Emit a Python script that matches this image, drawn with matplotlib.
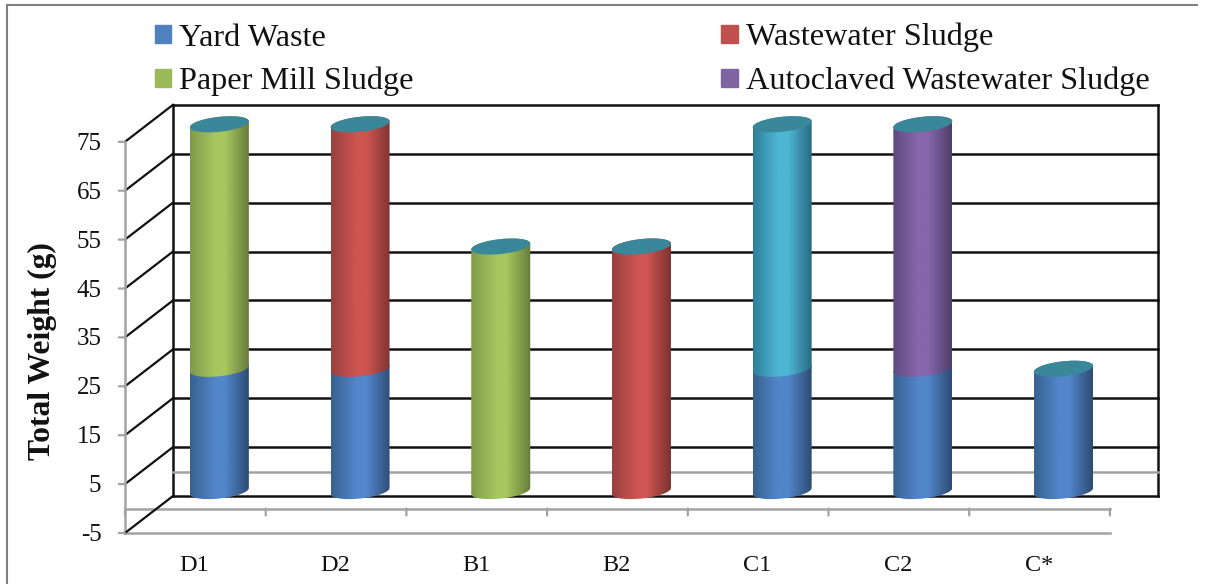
import matplotlib
matplotlib.use("Agg")
import matplotlib.pyplot as plt
import numpy as np
from matplotlib.colors import LinearSegmentedColormap
from matplotlib.patches import Patch, PathPatch
from matplotlib.path import Path

categories = ["D1", "D2", "B1", "B2", "C1", "C2", "C*"]
yard_waste = [25, 25, 0, 0, 25, 25, 25]
paper_sludge = [50, 0, 50, 0, 0, 0, 0]
waste_sludge = [0, 50, 0, 50, 0, 0, 0]
unlabelled = [0, 0, 0, 0, 50, 0, 0]
autoclaved = [0, 0, 0, 0, 0, 50, 0]
y_ticks = [-5, 5, 15, 25, 35, 45, 55, 65, 75]

plt.rcParams["font.family"] = ["Liberation Serif"]

# pixel scale of the plot, the whole figure is one axes
PX_CAT = 140.7
PX_VAL = 4.89
DEPTH_X = 48 / PX_CAT
DEPTH_Y = 37 / PX_VAL
HALF_W = 29.5 / PX_CAT
BLACK = "#111111"
GRAY = "#A3A3A3"
CAP = "#3A8799"

# edge left, mid, edge right, legend colour
SHADES = {
    "yard": ("#38618F", "#5286CA", "#2E4B73", "#4F81BD"),
    "paper": ("#7F9A4A", "#A6C65F", "#667C3A", "#9BBB59"),
    "waste": ("#97403E", "#CE5552", "#7C3331", "#C0504D"),
    "teal": ("#2F7F9A", "#4CB6D4", "#2A6A80", "#4BACC6"),
    "auto": ("#5E4A7E", "#8666AC", "#4E3D69", "#8064A2"),
}

fig = plt.figure(figsize=(12.07, 5.84), dpi=100)
ax = fig.add_axes([0, 0, 1, 1])
xlim = (-125 / PX_CAT, (1207 - 125) / PX_CAT)
ylim = (-5 - (584 - 533) / PX_VAL, -5 + 533 / PX_VAL)


def ellipse_arc(cx, cy, t):
    xs = cx + HALF_W * np.cos(t)
    ys = cy + (3 * np.cos(t) + 7.5 * np.sin(t)) / PX_VAL
    return xs, ys


def draw_segment(cx, bottom, top, key):
    lo = np.linspace(np.pi, 2 * np.pi, 40)
    up = np.linspace(0, np.pi, 40)
    xb, yb = ellipse_arc(cx, bottom, lo)
    xt, yt = ellipse_arc(cx, top, up)
    verts = np.vstack([np.column_stack([xb, yb]), np.column_stack([xt, yt]), [[xb[0], yb[0]]]])
    clip = PathPatch(Path(verts), transform=ax.transData, fc="none", ec="none")
    ax.add_patch(clip)
    left, mid, right, _ = SHADES[key]
    cmap = LinearSegmentedColormap.from_list(key, [(0, left), (0.42, mid), (0.6, mid), (1, right)])
    grad = np.linspace(0, 1, 128).reshape(1, -1)
    im = ax.imshow(grad, cmap=cmap, aspect="auto", zorder=3, interpolation="bilinear",
                   extent=(cx - HALF_W, cx + HALF_W, bottom - 3, top + 3))
    im.set_clip_path(clip)


# frame round the chart
ax.plot([0.006, 0.006], [0, 0.991], transform=ax.transAxes, color="#808080", lw=1.5)
ax.plot([0.006, 0.992], [0.991, 0.991], transform=ax.transAxes, color="#808080", lw=1.5)

n = len(categories)
top_val = y_ticks[-1]
low_val = y_ticks[0]

# back wall
for v in y_ticks[1:]:
    ax.plot([DEPTH_X, n + DEPTH_X], [v + DEPTH_Y] * 2, color=BLACK, lw=1.8, zorder=1)
    ax.plot([0, DEPTH_X], [v, v + DEPTH_Y], color=BLACK, lw=1.6, zorder=1)
ax.plot([DEPTH_X, n + DEPTH_X], [low_val + DEPTH_Y] * 2, color=BLACK, lw=1.8, zorder=1)
ax.plot([0, DEPTH_X], [low_val, low_val + DEPTH_Y], color=BLACK, lw=1.6, zorder=2)
ax.plot([DEPTH_X, DEPTH_X], [low_val + DEPTH_Y, top_val + DEPTH_Y], color=BLACK, lw=1.8, zorder=1)
ax.plot([n + DEPTH_X, n + DEPTH_X], [low_val + DEPTH_Y, top_val + DEPTH_Y], color=BLACK, lw=1.8, zorder=1)

# zero planes and front axis
ax.plot([DEPTH_X, n + DEPTH_X], [DEPTH_Y, DEPTH_Y], color=GRAY, lw=1.8, zorder=1)
ax.plot([0, n], [0, 0], color=GRAY, lw=1.8, zorder=1)
ax.plot([0, n], [low_val, low_val], color=GRAY, lw=1.8, zorder=1)
ax.plot([0, 0], [low_val, top_val], color=GRAY, lw=1.8, zorder=1)
for i in range(n + 1):
    ax.annotate("", xy=(i, 0), xytext=(0, -5), textcoords="offset points",
                arrowprops=dict(arrowstyle="-", color=GRAY, lw=1.6, shrinkA=0, shrinkB=0))
for v in y_ticks:
    ax.annotate("", xy=(0, v), xytext=(-4.5, 0), textcoords="offset points",
                arrowprops=dict(arrowstyle="-", color=GRAY, lw=1.6, shrinkA=0, shrinkB=0))
    ax.annotate(str(v), xy=(0, v), xytext=(-17, -1.5), textcoords="offset points",
                ha="right", va="center", fontsize=18, color="#111111")

# cylinders, stacked bottom up
series = [("yard", yard_waste), ("paper", paper_sludge), ("waste", waste_sludge),
          ("teal", unlabelled), ("auto", autoclaved)]
for i in range(n):
    cx = i + 0.5 + DEPTH_X / 2
    base = DEPTH_Y / 2 - 0.2
    for key, vals in series:
        if vals[i] == 0:
            continue
        draw_segment(cx, base, base + vals[i], key)
        base += vals[i]
    xs, ys = ellipse_arc(cx, base, np.linspace(0, 2 * np.pi, 80))
    ax.fill(xs, ys, color=CAP, lw=0, zorder=4)
    ax.annotate(categories[i], xy=(i + 0.5, low_val), xytext=(-0.5, -23.5), textcoords="offset points",
                ha="center", va="center", fontsize=17.5, color="#111111")

ax.text(42 / PX_CAT + xlim[0], 32.3, "Total Weight (g)", rotation=90, ha="center", va="center",
        fontsize=22.8, fontweight="bold", color="#111111")

handles = [Patch(color=SHADES[k][3]) for k in ("yard", "paper", "waste", "auto")]
labels = ["Yard Waste", "Paper Mill Sludge", "Wastewater Sludge", "Autoclaved Wastewater Sludge"]
ax.legend(handles, labels, ncol=2, frameon=False, fontsize=23.2, loc="upper left",
          bbox_to_anchor=(155 / 1207, 1 - 23 / 584), borderaxespad=0, borderpad=0,
          handlelength=0.5, handleheight=0.5, handletextpad=0.25, columnspacing=9.55,
          labelspacing=0.45, labelcolor="#111111")

ax.set_xlim(xlim)
ax.set_ylim(ylim)
ax.axis("off")
fig.savefig("out.png", dpi=100)
